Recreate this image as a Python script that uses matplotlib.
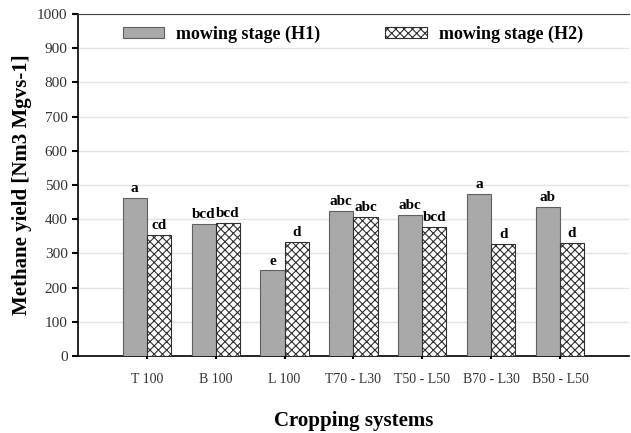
import matplotlib.pyplot as plt
import numpy as np

plt.rcParams['font.family'] = ['Liberation Serif', 'DejaVu Serif']
plt.rcParams['hatch.linewidth'] = 0.8

systems = ['T 100', 'B 100', 'L 100', 'T70 - L30', 'T50 - L50', 'B70 - L30', 'B50 - L50']
h1_yield = [462, 386, 250, 424, 412, 474, 436]
h2_yield = [355, 389, 333, 406, 378, 328, 331]
h1_letters = ['a', 'bcd', 'e', 'abc', 'abc', 'a', 'ab']
h2_letters = ['cd', 'bcd', 'd', 'abc', 'bcd', 'd', 'd']

fig = plt.figure(figsize=(6.31, 4.33), dpi=100)
ax = fig.add_axes([0.1236, 0.1778, 0.873, 0.79])

x = np.arange(len(systems))
w = 0.35
ax.bar(x - w / 2, h1_yield, w, color='#a9a9a9', edgecolor='#606060',
       linewidth=0.8, label='mowing stage (H1)', zorder=3)
ax.bar(x + w / 2, h2_yield, w, color='white', edgecolor='#303030',
       hatch='xxxx', linewidth=0.8, label='mowing stage (H2)', zorder=3)

# significance letters above each bar
for xi, v, t in zip(x - w / 2, h1_yield, h1_letters):
    ax.text(xi, v + 8, t, ha='center', va='bottom', fontsize=11, fontweight='bold')
for xi, v, t in zip(x + w / 2, h2_yield, h2_letters):
    ax.text(xi, v + 8, t, ha='center', va='bottom', fontsize=11, fontweight='bold')

ax.set_xlim(-1, 7)
ax.set_ylim(0, 1000)
ax.set_yticks(np.arange(0, 1001, 100))
ax.set_xticks(x)
ax.set_xticklabels(systems, fontsize=10, color='#333333')
ax.tick_params(axis='y', labelsize=11, labelcolor='#333333', direction='out', length=4, width=1.5)
ax.tick_params(axis='x', direction='inout', length=5, width=1.5, pad=10)
ax.yaxis.grid(True, color='#e4e4e4', linewidth=1, zorder=0)

ax.spines['right'].set_visible(False)
ax.spines['top'].set_color('#444444')
ax.spines['left'].set_linewidth(1.2)
ax.spines['bottom'].set_linewidth(1.2)

ax.set_ylabel('Methane yield [Nm3 Mgvs-1]', fontsize=15, fontweight='bold', labelpad=4)
ax.set_xlabel('Cropping systems', fontsize=15, fontweight='bold', labelpad=18)

ax.legend(loc='center left', ncol=2, frameon=False,
          prop={'weight': 'bold', 'size': 13}, handlelength=2.28, handleheight=0.55,
          handletextpad=0.67, columnspacing=3.6, borderpad=0, borderaxespad=0,
          bbox_to_anchor=(0.0817, 0.94))

fig.savefig('out.png', dpi=100)
